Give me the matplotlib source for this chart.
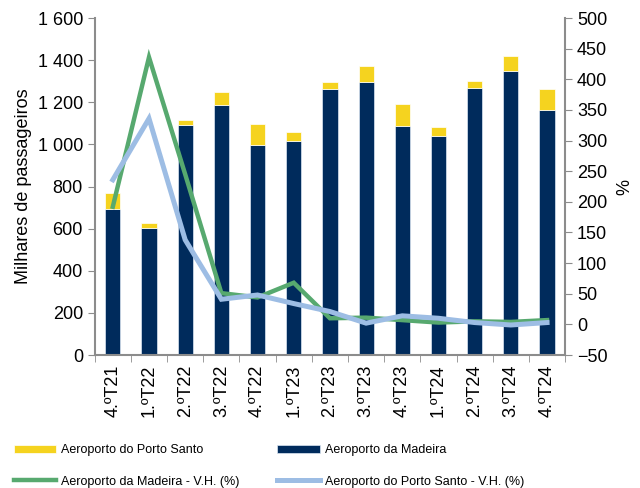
import numpy as np
from matplotlib import pyplot as plt
from matplotlib.ticker import FuncFormatter, FixedLocator

plt.rcParams['font.family'] = ['Liberation Sans', 'DejaVu Sans']

quarters = ["4.ºT21", "1.ºT22", "2.ºT22", "3.ºT22", "4.ºT22", "1.ºT23", "2.ºT23",
            "3.ºT23", "4.ºT23", "1.ºT24", "2.ºT24", "3.ºT24", "4.ºT24"]
madeira = [692, 603, 1092, 1189, 996, 1018, 1265, 1298, 1089, 1040, 1266, 1350, 1165]
porto_santo = [76, 25, 24, 58, 102, 41, 33, 73, 101, 43, 35, 70, 98]
vh_madeira = [192, 436, 245, 51, 44, 68, 10, 11, 7, 3, 5, 4, 7]
vh_porto_santo = [236, 336, 138, 41, 48, 34, 21, 2, 14, 10, 3, -1, 3]

c_yellow = "#F5D31F"
c_navy = "#002B5C"
c_green = "#57A96F"
c_blue = "#9DBDE4"
grey = "#8C8C8C"

fig = plt.figure(figsize=(6.4, 4.88), dpi=100)
ax = fig.add_axes([0.148, 0.2725, 0.735, 0.6905])
x = np.arange(len(quarters))

b1 = ax.bar(x, madeira, width=0.42, color=c_navy, edgecolor="#DCE6F2", linewidth=0.5,
            label="Aeroporto da Madeira")
b2 = ax.bar(x, porto_santo, width=0.42, bottom=madeira, color=c_yellow, edgecolor="white",
            linewidth=0.5, label="Aeroporto do Porto Santo")
ax.set_xlim(-0.5, len(quarters) - 0.5)
ax.set_ylim(0, 1600)
ax.set_yticks(np.arange(0, 1601, 200))
ax.yaxis.set_major_formatter(FuncFormatter(lambda v, p: f"{int(v):,}".replace(",", " ")))
ax.set_ylabel("Milhares de passageiros", fontsize=13, labelpad=4)

ax.set_xticks(x)
ax.set_xticklabels(quarters, rotation=90, fontsize=13)
ax.xaxis.set_minor_locator(FixedLocator(np.arange(-0.5, len(quarters), 1)))
ax.tick_params(axis="x", which="major", length=0, pad=7)
ax.tick_params(axis="x", which="minor", length=5, color=grey, direction="out")
ax.tick_params(axis="y", labelsize=13, length=5, color=grey, direction="out")

ax2 = ax.twinx()
l1, = ax2.plot(x, vh_madeira, color=c_green, linewidth=3.2, solid_joinstyle="miter",
               label="Aeroporto da Madeira - V.H. (%)")
l2, = ax2.plot(x, vh_porto_santo, color=c_blue, linewidth=3.6, solid_joinstyle="miter",
               label="Aeroporto do Porto Santo - V.H. (%)")
ax2.set_ylim(-50, 500)
ax2.set_yticks(np.arange(-50, 501, 50))
ax2.tick_params(axis="y", labelsize=13, length=5, color=grey, direction="out")
ax2.set_ylabel("%", fontsize=13, labelpad=6)

for a in (ax, ax2):
    for s in a.spines.values():
        s.set_visible(False)
ax.spines["left"].set_visible(True)
ax.spines["bottom"].set_visible(True)
ax2.spines["right"].set_visible(True)
for s in (ax.spines["left"], ax.spines["bottom"], ax2.spines["right"]):
    s.set_color(grey)
    s.set_linewidth(1.5)

fig.legend([b2, l1, b1, l2],
           ["Aeroporto do Porto Santo", "Aeroporto da Madeira - V.H. (%)",
            "Aeroporto da Madeira", "Aeroporto do Porto Santo - V.H. (%)"],
           ncol=2, loc="lower left", bbox_to_anchor=(0.012, -0.012), frameon=False,
           borderpad=0, fontsize=9, handlelength=3.4, handleheight=0.6,
           columnspacing=3.0, labelspacing=1.55, handletextpad=0.4)

fig.savefig("out.png", dpi=100)
